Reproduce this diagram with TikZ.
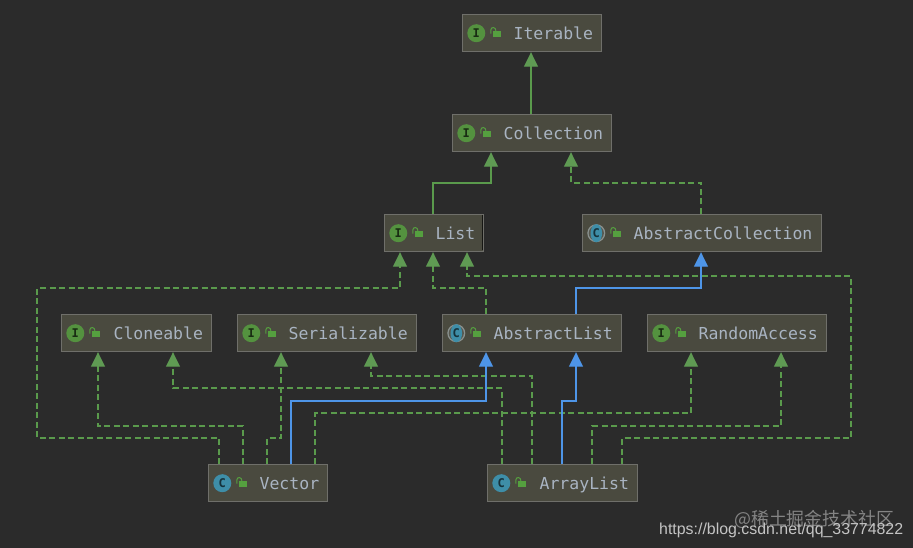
\documentclass[tikz,border=0pt]{standalone}
\usepackage{fontspec}
\setmonofont{DejaVu Sans Mono}
\setmainfont{Liberation Sans}
\newfontfamily\cjk{Noto Sans CJK SC}
\usetikzlibrary{arrows.meta,calc}
\definecolor{bgc}{HTML}{2B2B2B}
\definecolor{boxfill}{HTML}{4A4A3F}
\definecolor{boxline}{HTML}{6F6F6A}
\definecolor{boxtext}{HTML}{A9B4C2}
\definecolor{greenline}{HTML}{5A9A4C}
\definecolor{greentip}{HTML}{5F9A53}
\definecolor{blueline}{HTML}{4E95E8}
\definecolor{ifacefill}{HTML}{54923F}
\definecolor{classfill}{HTML}{3E8EA8}
\definecolor{lockc}{HTML}{55A03F}
\definecolor{parenc}{HTML}{8A9290}
\tikzset{
  x=1pt,y=-1pt,
  umlbox/.style={draw=boxline,fill=boxfill,line width=1.2pt,inner sep=0pt,minimum height=37pt,anchor=north west,text=boxtext,font=\fontsize{16.5}{18}\selectfont\ttfamily},
  realize/.style={draw=greenline,line width=1.15pt,dash pattern=on 6pt off 3.5pt,-{Triangle[width=14pt,length=14.5pt,color=greentip]}},
  extendg/.style={draw=greenline,line width=1.15pt,-{Triangle[width=14pt,length=14.5pt,color=greentip]}},
  extendb/.style={draw=blueline,line width=1.15pt,-{Triangle[width=14pt,length=14.5pt,color=blueline]}},
  iconletter/.style={font=\fontsize{12}{12}\selectfont\ttfamily\bfseries,inner sep=0pt},
}
\newcommand\umlnode[7]{%
  \node[umlbox] (#1) at (#2,#3) {\makebox[#4pt][l]{\hspace{#5pt}\rule[-5pt]{0pt}{22pt}#7}};
  \path (#2+14.3,#3+19.2) coordinate (#1ic);
  \ifx#6I
    \fill[ifacefill] (#1ic) circle (9);
    \node[iconletter,text=ifacefill!30!black] at (#1ic) {I};
  \else\ifx#6C
    \fill[classfill] (#1ic) circle (9);
    \node[iconletter,text=classfill!35!black] at (#1ic) {C};
  \else
    \fill[parenc] (#1ic) circle (9);
    \fill[boxfill!80!parenc] (#1ic) circle (7.6);
    \fill[classfill] (#1ic) ellipse (5.8 and 9);
    \node[iconletter,text=classfill!35!black] at (#1ic) {C};
  \fi\fi
  \fill[lockc] ($(#1ic)+(16.2,-2.5)$) rectangle ($(#1ic)+(24.5,4)$);
  \draw[lockc,line width=1pt] ($(#1ic)+(14.6,0.5)$) -- ($(#1ic)+(14.6,-3.5)$)
     .. controls ($(#1ic)+(14.6,-6.5)$) and ($(#1ic)+(19.6,-6.5)$) .. ($(#1ic)+(19.6,-2.5)$);
}
\begin{document}
\begin{tikzpicture}
\useasboundingbox (0,0) rectangle (913,548);
\fill[bgc] (0,0) rectangle (913,548);

\umlnode{iter}{462}{14}{139}{51}{I}{Iterable}
\umlnode{coll}{452}{114}{159}{51}{I}{Collection}
\umlnode{list}{384}{214}{99}{51}{I}{List}
\umlnode{acoll}{582}{214}{239}{51}{A}{AbstractCollection}
\umlnode{clone}{61}{314}{150}{52}{I}{Cloneable}
\umlnode{seri}{237}{314}{179}{51}{I}{Serializable}
\umlnode{alist}{442}{314}{179}{51}{A}{AbstractList}
\umlnode{rand}{647}{314}{179}{51}{I}{RandomAccess}
\umlnode{vect}{208}{464}{119}{51}{C}{Vector}
\umlnode{arr}{487}{464}{150}{52}{C}{ArrayList}
\draw[black!70!boxfill,line width=1pt] (482,215) -- (482,250);

\draw[extendg] (coll.north -| 531,0) -- (iter.south -| 531,0);
\draw[extendg] (list.north -| 433,0) -- (433,183) -- (491,183) -- (coll.south -| 491,0);
\draw[realize] (acoll.north -| 701,0) -- (701,183) -- (571,183) -- (coll.south -| 571,0);

\draw[realize] (vect.north -| 219,0) -- (219,438) -- (37,438) -- (37,288) -- (400,288) -- (list.south -| 400,0);
\draw[realize] (alist.north -| 486,0) -- (486,288) -- (433,288) -- (list.south -| 433,0);
\draw[realize] (arr.north -| 622,0) -- (622,438) -- (851,438) -- (851,276) -- (467,276) -- (list.south -| 467,0);
\draw[extendb] (alist.north -| 576,0) -- (576,288) -- (701,288) -- (acoll.south -| 701,0);

\draw[realize] (vect.north -| 243,0) -- (243,426) -- (98,426) -- (clone.south -| 98,0);
\draw[realize] (arr.north -| 502,0) -- (502,388) -- (173,388) -- (clone.south -| 173,0);
\draw[realize] (vect.north -| 267,0) -- (267,438) -- (281,438) -- (seri.south -| 281,0);
\draw[realize] (arr.north -| 532,0) -- (532,376) -- (371,376) -- (seri.south -| 371,0);
\draw[realize] (vect.north -| 315,0) -- (315,413) -- (691,413) -- (rand.south -| 691,0);
\draw[realize] (arr.north -| 592,0) -- (592,426) -- (781,426) -- (rand.south -| 781,0);
\draw[extendb] (vect.north -| 291,0) -- (291,401) -- (486,401) -- (alist.south -| 486,0);
\draw[extendb] (arr.north -| 562,0) -- (562,401) -- (576,401) -- (alist.south -| 576,0);

\node[anchor=base west,inner sep=0pt,text=white!42!bgc,font=\cjk\fontsize{17.9}{20}\selectfont] (wm1) at (734,525) {@稀土掘金技术社区};
\node[anchor=base west,inner sep=0pt,text=white!72!bgc,font=\fontsize{15.9}{18}\selectfont] (wm2) at (659,534.5) {https://blog.csdn.net/qq\_33774822};
\end{tikzpicture}
\end{document}
